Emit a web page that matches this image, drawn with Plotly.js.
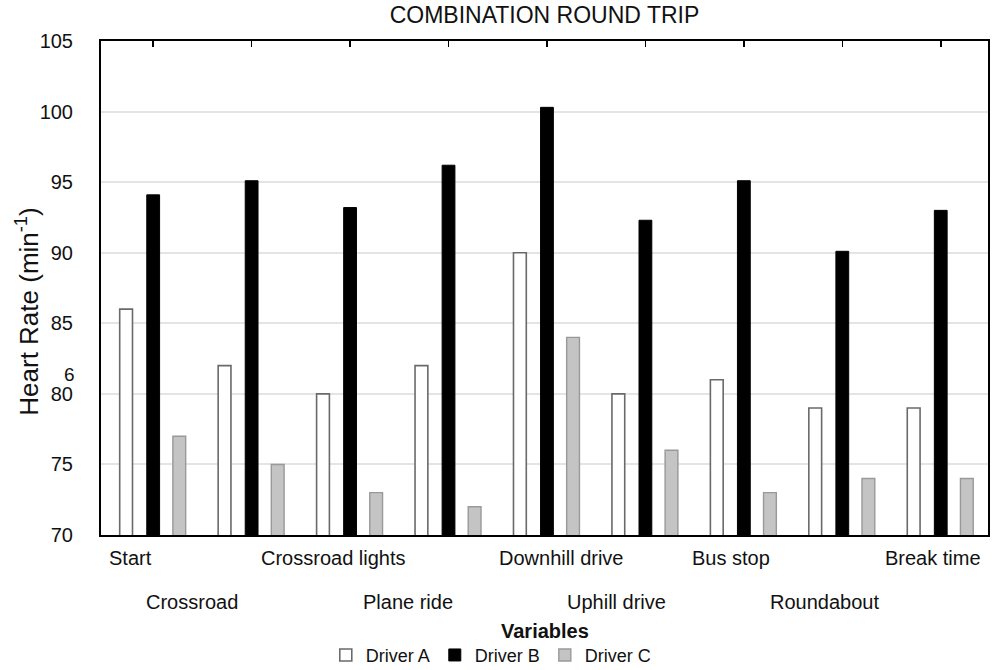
<!DOCTYPE html>
<html>
<head>
<meta charset="utf-8">
<script src="https://cdn.plot.ly/plotly-3.0.1.min.js"></script>
<style>html,body{margin:0;padding:0;background:#fff;}#chart{width:992px;height:670px;}</style>
</head>
<body>
<div id="chart"></div>
<script>
const categories = ["Start","Crossroad","Crossroad lights","Plane ride","Downhill drive","Uphill drive","Bus stop","Roundabout","Break time"];
const driverA = [86, 82, 80, 82, 90, 80, 81, 79, 79];
const driverB = [94.1, 95.1, 93.2, 96.2, 100.3, 92.3, 95.1, 90.1, 93.0];
const driverC = [77, 75, 73, 72, 84, 76, 73, 74, 74];
const seriesNames = ["Driver A","Driver B","Driver C"];
const yTicks = [70, 75, 80, 85, 90, 95, 100, 105];

const FONT = "Liberation Sans, Arial, sans-serif";

const traces = [
  {type:'bar', name:seriesNames[0], x:categories, y:driverA, width:0.13, offset:-0.34,
   marker:{color:'#ffffff', line:{color:'#6a6a6a', width:1.6}}},
  {type:'bar', name:seriesNames[1], x:categories, y:driverB, width:0.13, offset:-0.065,
   marker:{color:'#000000', line:{color:'#000000', width:1}}},
  {type:'bar', name:seriesNames[2], x:categories, y:driverC, width:0.13, offset:0.2,
   marker:{color:'#c4c4c4', line:{color:'#999999', width:1.4}}}
];

// label placement (rows + shifts) — styling only
const rowOf = [0,1,0,1,0,1,0,1,0];
const shiftOf = [-23,-60,-17,-41,15,-29,-13,-18,-8];
const annotations = categories.map((c,i)=>({
  x:c, xref:'x', y: rowOf[i]===0 ? -0.047 : -0.136, yref:'paper',
  text:c, showarrow:false, xanchor:'center', yanchor:'middle', xshift:shiftOf[i],
  font:{family:FONT, size:20, color:'#111'}
}));
annotations.push({x:0.5, xref:'paper', y:-0.195, yref:'paper', text:'<b>Variables</b>', showarrow:false,
  xanchor:'center', yanchor:'middle', font:{family:FONT, size:20, color:'#111'}});
annotations.push({x:0, xref:'paper', y:81.4, yref:'y', text:'6', showarrow:false,
  xanchor:'right', yanchor:'middle', xshift:-24, font:{family:FONT, size:19, color:'#111'}});
annotations.push({x:0, xref:'paper', xshift:-73, y:0.452, yref:'paper', text:'Heart Rate (min<sup>-1</sup>)', textangle:-90,
  showarrow:false, xanchor:'center', yanchor:'middle', font:{family:FONT, size:26, color:'#111'}});

const layout = {
  width:992, height:670,
  margin:{l:101, r:4, t:41, b:135, autoexpand:false},
  paper_bgcolor:'#fff', plot_bgcolor:'#fff',
  barmode:'overlay',
  showlegend:true,
  title:{text:'COMBINATION ROUND TRIP', x:0.5, xref:'paper', xanchor:'center', y:0.978, yref:'container', yanchor:'middle',
    font:{family:FONT, size:23, color:'#111'}},
  xaxis:{type:'category', range:[-0.53, 8.48], showticklabels:false, ticks:'inside', ticklen:6, tickwidth:1.5, tickcolor:'#000',
    showline:true, linecolor:'#000', linewidth:2, mirror:'ticks', showgrid:false, zeroline:false, fixedrange:true},
  yaxis:{range:[70,105], tickvals:yTicks, ticktext:yTicks.map(String), ticks:'', ticklabelstandoff:22,
    showline:true, linecolor:'#000', linewidth:2, mirror:true, showgrid:true, gridcolor:'#e4e4e4', gridwidth:2,
    zeroline:false, tickfont:{family:FONT, size:20, color:'#111'}, fixedrange:true},
  legend:{orientation:'h', x:0.44, xanchor:'center', y:0.022, yref:'container', yanchor:'middle', font:{family:FONT, size:18, color:'#111'},
    bgcolor:'rgba(0,0,0,0)', traceorder:'normal', itemwidth:30},
  annotations:annotations
};

Plotly.newPlot('chart', traces, layout, {displayModeBar:false, staticPlot:true});
</script>
</body>
</html>
